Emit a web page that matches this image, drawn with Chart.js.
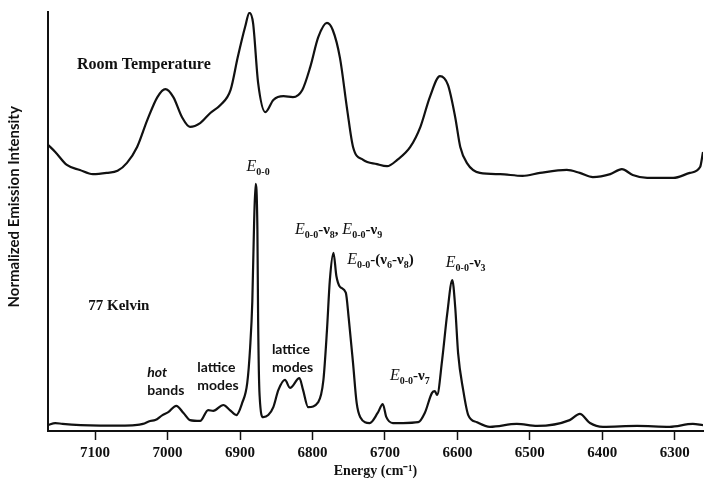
<!DOCTYPE html>
<html>
<head>
<meta charset="utf-8">
<script src="https://cdn.jsdelivr.net/npm/chart.js@4.4.1/dist/chart.umd.min.js"></script>
<style>
  html, body { margin: 0; padding: 0; background: #ffffff; }
  #wrap { width: 706px; height: 482px; }
</style>
</head>
<body>
<div id="wrap"><canvas id="spectrum" width="706" height="482"></canvas></div>
<script>
// Emission spectra: energy in cm^-1, intensity in normalized units (offset traces)
const energyRoomTemp = [
  7165, 7155, 7139, 7121, 7103, 7084, 7069, 7056, 7042, 7028, 7014, 7003, 6992, 6980,
  6969, 6955, 6941, 6927, 6913, 6903, 6893, 6887, 6882, 6875, 6865, 6854, 6840, 6827,
  6814, 6803, 6792, 6780, 6772, 6762, 6752, 6744, 6730, 6711, 6697, 6683, 6665, 6651,
  6638, 6624, 6613, 6603, 6596, 6587, 6569, 6541, 6510, 6486, 6449, 6431, 6413, 6389,
  6373, 6358, 6338, 6302, 6279, 6265, 6261
];
const intensityRoomTemp = [
  68.3, 66.6, 63.5, 62.3, 61.3, 61.6, 62.1, 64.0, 67.8, 74.2, 79.7, 81.6, 79.7, 74.9,
  72.6, 73.5, 75.9, 77.8, 81.4, 89.3, 96.4, 99.8, 97.4, 83.1, 76.1, 79.0, 79.9, 79.7,
  81.4, 86.9, 94.0, 97.4, 95.7, 89.0, 76.6, 67.8, 64.7, 63.7, 63.2, 64.7, 67.8, 72.6,
  79.7, 84.7, 82.6, 74.9, 67.8, 64.0, 61.6, 61.3, 60.9, 61.6, 62.3, 61.6, 60.6, 61.3,
  62.5, 61.1, 60.4, 60.4, 61.6, 63.0, 66.6
];

const energy77K = [
  7165, 7155, 7145, 7120, 7093, 7065, 7045, 7034, 7024, 7017, 7007, 6999, 6988, 6978,
  6969, 6955, 6944, 6937, 6923, 6914, 6905, 6897, 6890, 6886, 6883, 6880.5, 6878.5, 6876,
  6875, 6873, 6868, 6861, 6854, 6847, 6838, 6831, 6818, 6813, 6806, 6792, 6785, 6780,
  6776, 6771, 6767, 6762, 6754, 6750, 6744, 6739, 6734, 6721, 6710, 6703, 6698, 6689,
  6675, 6654, 6645, 6635, 6631, 6628, 6621, 6614, 6607, 6603, 6599, 6592, 6585, 6573,
  6555, 6518, 6490, 6445, 6431, 6417, 6399, 6352, 6307, 6275, 6261
];
const intensity77K = [
  1.4, 1.9, 1.7, 1.4, 1.3, 1.3, 1.4, 1.7, 2.4, 2.6, 3.8, 4.5, 6.0, 4.3,
  2.6, 2.4, 5.0, 4.8, 6.2, 5.0, 3.8, 6.7, 11.5, 20, 31, 50, 59, 48,
  26.5, 8.6, 3.3, 3.8, 5.7, 9.8, 12.2, 10.3, 12.6, 9.8, 5.7, 6.9, 12, 24,
  36, 42.5, 37, 34.4, 33, 27, 16.2, 6.7, 3.3, 1.9, 4.3, 6.4, 3.3, 1.9,
  1.9, 2.1, 4.3, 9.1, 9.5, 8.6, 17, 28, 36, 29.6, 18.6, 9.8, 3.8, 2.1,
  1.0, 1.7, 1.2, 2.6, 4.1, 1.9, 1.0, 1.2, 1.0, 1.7, 1.4
];

const energyTicks = [7100, 7000, 6900, 6800, 6700, 6600, 6500, 6400, 6300];

const yAxisTitle = 'Normalized Emission Intensity';

const toPoints = (xs, ys) => xs.map((x, i) => ({ x: x, y: ys[i] }));

const SERIF = "'Liberation Serif', 'Times New Roman', serif";
const SANS = "Lato, 'Liberation Sans', sans-serif";

// Text pieces for the peak assignments: E is italic, 0-0 and mode numbers are subscripts
const E00 = [
  { t: 'E', font: 'italic 16px ' + SERIF },
  { t: '0-0', font: 'bold 10px ' + SERIF, dy: 4 }
];
const nu = n => [
  { t: 'ν', font: 'bold 15px ' + SERIF },
  { t: n, font: 'bold 10px ' + SERIF, dy: 4 }
];
const plain = (t, f) => ({ t: t, font: f || ('bold 15px ' + SERIF) });

const annotations = [
  { at: [7125, 86.4], parts: [plain('Room Temperature', 'bold 16px ' + SERIF)] },
  { at: [7109.5, 28.9], parts: [plain('77 Kelvin', 'bold 15px ' + SERIF)] },
  { at: [6875, 62.1], align: 'center', parts: E00 },
  { at: [6824, 47.0], parts: [...E00, plain('-'), ...nu('8'), plain(', '), ...E00, plain('-'), ...nu('9')] },
  { at: [6752, 39.9], parts: [...E00, plain('-('), ...nu('6'), plain('-'), ...nu('8'), plain(')')] },
  { at: [6616, 39.1], parts: [...E00, plain('-'), ...nu('3')] },
  { at: [6693, 12.2], parts: [...E00, plain('-'), ...nu('7')] },
  { at: [7028, 12.9], parts: [plain('hot', 'italic bold 14px ' + SANS)] },
  { at: [7028, 8.6], parts: [plain('bands', 'bold 14px ' + SANS)] },
  { at: [6959, 14.1], parts: [plain('lattice', 'bold 14px ' + SANS)] },
  { at: [6959, 9.8], parts: [plain('modes', 'bold 14px ' + SANS)] },
  { at: [6856, 18.4], parts: [plain('lattice', 'bold 14px ' + SANS)] },
  { at: [6856, 14.1], parts: [plain('modes', 'bold 14px ' + SANS)] }
];

const peakLabels = {
  id: 'peakLabels',
  afterDatasetsDraw(chart) {
    const { ctx, scales, chartArea } = chart;
    ctx.save();
    ctx.fillStyle = '#111';
    ctx.textBaseline = 'alphabetic';
    ctx.textAlign = 'left';
    annotations.forEach(a => {
      let x = scales.x.getPixelForValue(a.at[0]);
      const y = scales.y.getPixelForValue(a.at[1]);
      if (a.align === 'center') {
        let w = 0;
        a.parts.forEach(p => { ctx.font = p.font; w += ctx.measureText(p.t).width; });
        x -= w / 2;
      }
      a.parts.forEach(p => {
        ctx.font = p.font;
        ctx.fillText(p.t, x, y + (p.dy || 0));
        x += ctx.measureText(p.t).width;
      });
    });

    // vertical axis title, set a little below the middle of the axis
    ctx.translate(chartArea.left - 34, chartArea.top + (chartArea.bottom - chartArea.top) * 0.465);
    ctx.rotate(-Math.PI / 2);
    ctx.font = 'bold 15px ' + SANS;
    ctx.textAlign = 'center';
    ctx.textBaseline = 'middle';
    ctx.fillText(yAxisTitle, 0, 0);
    ctx.restore();
  }
};

new Chart(document.getElementById('spectrum'), {
  type: 'line',
  data: {
    datasets: [
      {
        label: 'Room Temperature',
        data: toPoints(energyRoomTemp, intensityRoomTemp),
        borderColor: '#111',
        borderWidth: 2.2,
        pointRadius: 0,
        fill: false,
        cubicInterpolationMode: 'monotone'
      },
      {
        label: '77 Kelvin',
        data: toPoints(energy77K, intensity77K),
        borderColor: '#111',
        borderWidth: 2.2,
        pointRadius: 0,
        fill: false,
        cubicInterpolationMode: 'monotone'
      }
    ]
  },
  options: {
    responsive: false,
    animation: false,
    devicePixelRatio: 1,
    layout: { padding: { top: 12, right: 3, left: 0, bottom: 0 } },
    plugins: {
      legend: { display: false },
      tooltip: { enabled: false }
    },
    scales: {
      x: {
        type: 'linear',
        reverse: true,
        min: 6261,
        max: 7165,
        afterBuildTicks: axis => { axis.ticks = energyTicks.map(v => ({ value: v })); },
        afterFit: axis => { axis.height = 51; },
        grid: {
          display: true,
          drawOnChartArea: false,
          drawTicks: true,
          tickLength: 9,
          tickWidth: 1.5,
          tickColor: '#111'
        },
        border: { display: true, color: '#111', width: 2 },
        ticks: {
          color: '#111',
          padding: 4,
          maxRotation: 0,
          callback: v => String(v),
          font: { family: SERIF, size: 15, weight: 'bold' }
        },
        title: {
          display: true,
          text: 'Energy (cm⁻¹)',
          color: '#111',
          padding: { top: 0, bottom: 2 },
          font: { family: SERIF, size: 14, weight: 'bold' }
        }
      },
      y: {
        type: 'linear',
        min: 0,
        max: 100,
        afterFit: axis => { axis.width = 48; },
        grid: { display: true, drawOnChartArea: false, drawTicks: false },
        border: { display: true, color: '#111', width: 2 },
        ticks: { display: false },
        title: { display: false, text: yAxisTitle }
      }
    }
  },
  plugins: [peakLabels]
});
</script>
</body>
</html>
